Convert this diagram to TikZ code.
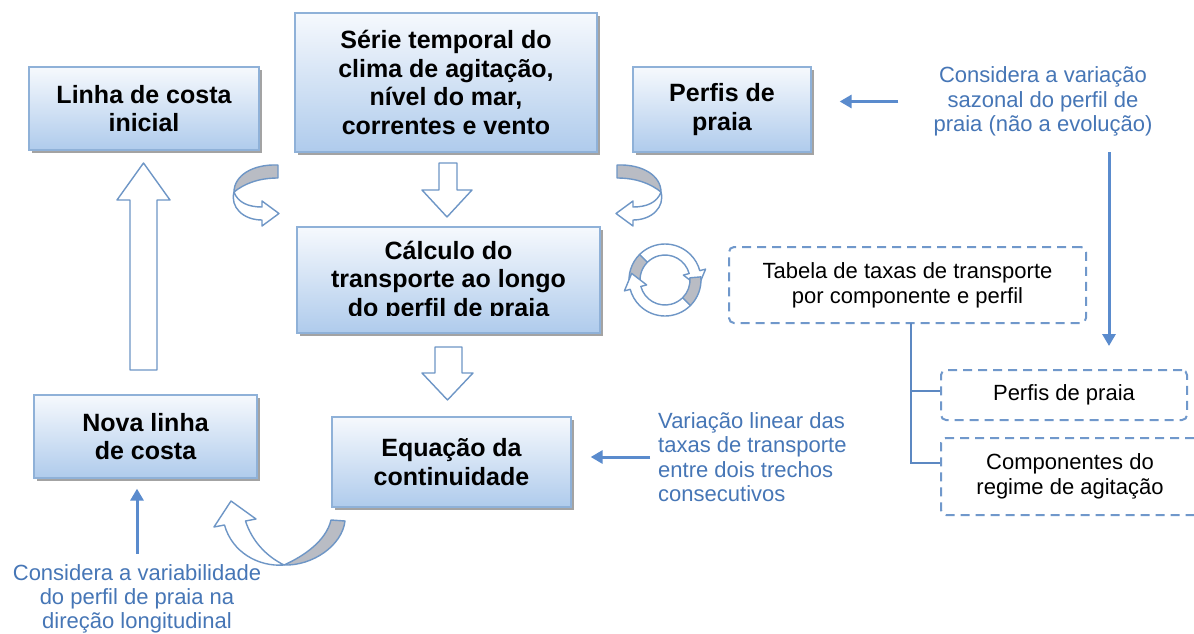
\documentclass[tikz,border=0pt]{standalone}
\usepackage{fontspec}
\setmainfont{Liberation Sans}
\usetikzlibrary{arrows.meta,shadows,calc}
\definecolor{boxborder}{HTML}{8FB1D8}
\definecolor{boxtop}{HTML}{F6F9FD}
\definecolor{boxbot}{HTML}{AFCBEC}
\definecolor{harrow}{HTML}{6E96C6}
\definecolor{bandgray}{HTML}{B9BCC4}
\definecolor{bluetxt}{HTML}{4676B6}
\definecolor{bluearrowc}{HTML}{5A8BCD}
\definecolor{dashc}{HTML}{7098CB}
\definecolor{treec}{HTML}{5C88C2}
\begin{document}
\begin{tikzpicture}[x=1pt,y=-1pt,
  mainbox/.style={draw=boxborder, line width=1.3pt, top color=boxtop, bottom color=boxbot,
    inner sep=0pt, align=center, font=\bfseries\fontsize{25}{28.5}\selectfont,
    drop shadow={shadow xshift=3pt, shadow yshift=-3pt, fill=black!45, opacity=0.8}},
  boxtext/.style={inner sep=0pt, align=center, font=\bfseries\fontsize{25}{28.5}\selectfont},
  dashbox/.style={draw=dashc, line width=2pt, dash pattern=on 9pt off 6pt, rounded corners=5pt,
    inner sep=0pt, align=center, font=\fontsize{22}{25}\selectfont},
  bluetext/.style={text=bluetxt, inner sep=0pt, align=center, font=\fontsize{22}{24.5}\selectfont},
  bluearr/.style={draw=bluearrowc, line width=3pt, -{Triangle[length=12pt,width=13pt]}},
  treeline/.style={draw=treec, line width=2pt},
  hollow/.style={draw=harrow, fill=white, line width=1.4pt, line join=round},
  grayband/.style={draw=harrow, fill=bandgray, line width=1.4pt, line join=round}]

\useasboundingbox (0,0) rectangle (1194,634);
\fill[white] (0,0) rectangle (1194,634);

% main boxes
\node[mainbox, minimum width=230pt, minimum height=83pt] (linha) at (144,108.5) {Linha de costa\\inicial};
\node[mainbox, minimum width=302pt, minimum height=139pt] (serie) at (446,82.5) {Série temporal do\\clima de agitação,\\nível do mar,\\correntes e vento};
\node[mainbox, minimum width=178pt, minimum height=85pt] (perfis) at (722,109.5) {Perfis de\\praia};
\node[mainbox, minimum width=303pt, minimum height=106pt] (calc) at (448.5,280) {};
\begin{scope}
  \clip (297,227) rectangle (600,315);
  \node[boxtext] (calcT) at (448.5,281) {Cálculo do\\transporte ao longo\\do perfil de praia};
\end{scope}
\node[mainbox, minimum width=223pt, minimum height=83pt] (nova) at (145.5,436.5) {Nova linha\\de costa};
\node[mainbox, minimum width=239pt, minimum height=90pt] (eq) at (451.5,462) {Equação da\\continuidade};

% dashed boxes
\node[dashbox, minimum width=357pt, minimum height=76pt] (tab) at (907.5,285) {Tabela de taxas de transporte\\por componente e perfil};
\node[dashbox, minimum width=246pt, minimum height=50pt] (pp2) at (1064,395) {Perfis de praia};
\node[dashbox, minimum width=258pt, minimum height=77pt] (comp) at (1070,476.5) {Componentes do\\regime de agitação};

% blue texts
\node[bluetext] (consA) at (1043,101.5) {Considera a variação\\sazonal do perfil de\\praia (não a evolução)};
\node[bluetext, align=left, anchor=west] (varT) at (658,457) {Variação linear das\\taxas de transporte\\entre dois trechos\\consecutivos};
\node[bluetext, font=\fontsize{22}{24}\selectfont] (consB) at (137,599) {Considera a variabilidade\\do perfil de praia na\\direção longitudinal};

% blue arrows
\draw[bluearr, shorten <=35pt, shorten >=28pt] (consA.west) -- (consA.west -| perfis.east);
\draw[bluearr, shorten <=8pt, shorten >=19pt] (varT.west) -- (varT.west -| eq.east);
\draw[bluearr, shorten <=11pt, shorten >=10pt] (consB.north) -- (consB.north |- nova.south);
\coordinate (vtop) at (1109,152);
\draw[bluearr, shorten >=23pt] (vtop) -- (vtop |- pp2.north);

% tree
\coordinate (troot) at (911,323);
\draw[treeline] (troot) |- ([yshift=4pt]pp2.west);
\draw[treeline] (troot) |- ([yshift=13.5pt]comp.west);

% hollow straight arrows
\draw[hollow] (439,163) -- (457,163) -- (457,190) -- (472,190) -- (447,217) -- (422,190) -- (439,190) -- cycle;
\draw[hollow] (435,347) -- (462,347) -- (462,373) -- (473,373) -- (447.5,400) -- (422,373) -- (435,373) -- cycle;
\draw[hollow] (130,370) -- (130,200) -- (117,200) -- (143.5,163) -- (170,200) -- (157,200) -- (157,370) -- cycle;

% curved arrow top-left and mirrored top-right
\newcommand{\mycurvy}{%
  \draw[hollow] (234,192) .. controls (238,203) and (249,207) .. (262,207) -- (262,201) -- (279,213.5) -- (262,226) -- (262,220) .. controls (243,220) and (230,207) .. (234,192) -- cycle;
  \draw[grayband] (278,165) .. controls (252,164) and (234,176) .. (234,192) .. controls (244,184) and (258,178) .. (278,178) -- cycle;
}
\mycurvy
\begin{scope}[xshift=895pt, xscale=-1]
  \mycurvy
\end{scope}

% bottom curved arrow
\draw[hollow] (284,565) .. controls (258,567) and (232,552) .. (224.5,525) -- (214,527) -- (231,501) -- (256,519) -- (245.5,521) .. controls (252,541) and (266,556) .. (284,565) -- cycle;
\draw[grayband] (331,520) -- (345,521) .. controls (342,546) and (312,566) .. (284,565) .. controls (304,556) and (326,541) .. (331,520) -- cycle;

% cycle icon
\coordinate (O) at (665,280);
\draw[hollow] ($(O)+(225:36)$) arc[start angle=225,end angle=345,radius=36] -- ($(O)+(345:42)$) -- ($(O)+(345:30.5)+(75:15)$) -- ($(O)+(345:19)$) -- ($(O)+(345:25)$) arc[start angle=345,end angle=225,radius=25] -- cycle;
\draw[grayband] ($(O)+(170:36)$) arc[start angle=170,end angle=225,radius=36] -- ($(O)+(225:25)$) arc[start angle=225,end angle=170,radius=25] -- cycle;
\draw[hollow] ($(O)+(45:36)$) arc[start angle=45,end angle=165,radius=36] -- ($(O)+(165:42)$) -- ($(O)+(165:30.5)+(255:15)$) -- ($(O)+(165:19)$) -- ($(O)+(165:25)$) arc[start angle=165,end angle=45,radius=25] -- cycle;
\draw[grayband] ($(O)+(-5:36)$) arc[start angle=-5,end angle=45,radius=36] -- ($(O)+(45:25)$) arc[start angle=45,end angle=-5,radius=25] -- cycle;

\end{tikzpicture}
\end{document}
